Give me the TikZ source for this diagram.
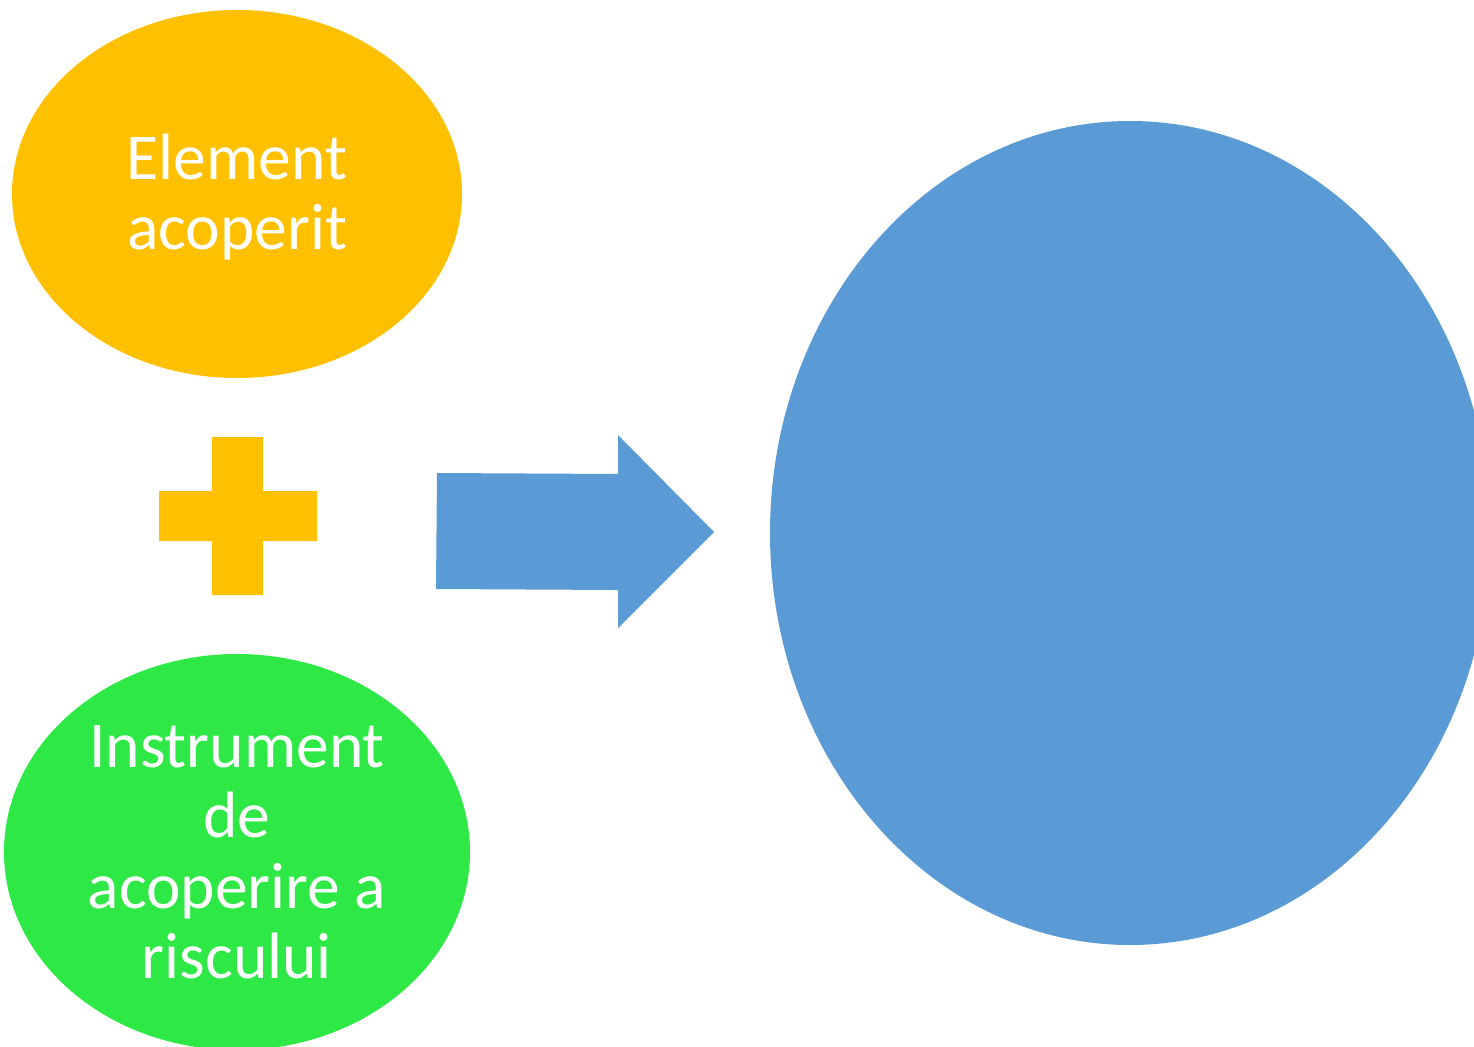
\documentclass[tikz,border=0pt]{standalone}
\usepackage{fontspec}
\setmainfont{Carlito}
\usetikzlibrary{shapes.geometric}
\definecolor{orangeC}{HTML}{FFC000}
\definecolor{greenC}{HTML}{2EE846}
\definecolor{blueC}{HTML}{5B9BD5}
\tikzset{
  blob/.style={ellipse, inner sep=0pt, outer sep=0pt, draw=none, text=white, align=center,
    font=\fontsize{65.5}{70.5}\selectfont},
}
\begin{document}
\begin{tikzpicture}[x=1pt,y=-1pt]
\useasboundingbox (0,0) rectangle (1474,1046);
\clip (0,0) rectangle (1474,1046);
\fill[white] (0,0) rectangle (1474,1046);
% orange ellipse
\node[blob, fill=orangeC, minimum width=450pt, minimum height=368pt] (cov) at (237,194) {};
\node[blob, text=white] (covtext) at (237,197) {Element\\acoperit};
% plus sign
\fill[orangeC] (212,437) -- (263,437) -- (263,491) -- (317,491) -- (317,541) -- (263,541) -- (263,595) -- (212,595) -- (212,541) -- (159,541) -- (159,491) -- (212,491) -- cycle;
% green ellipse
\node[blob, fill=greenC, minimum width=466pt, minimum height=396pt] (instr) at (237,852) {Instrument\\de\\acoperire a\\riscului};
% big arrow
\fill[blueC] (437,473) -- (618,474) -- (618,435) -- (714,532) -- (618,628) -- (618,590) -- (436,589) -- cycle;
% blue ellipse
\node[ellipse, fill=blueC, draw=none, inner sep=0pt, minimum width=720pt, minimum height=824pt] (res) at (1130,533) {};
\end{tikzpicture}
\end{document}
